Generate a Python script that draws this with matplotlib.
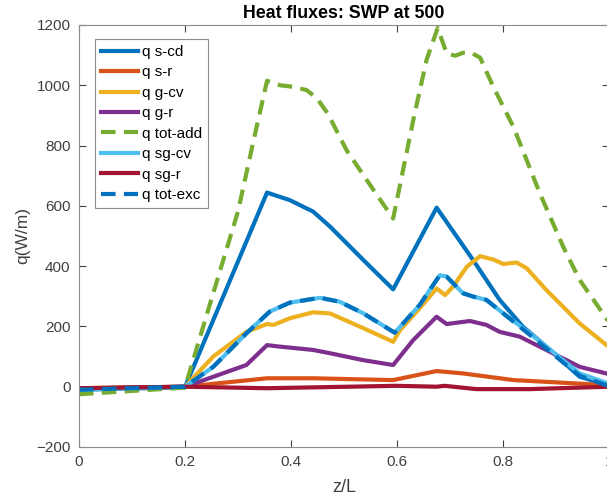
import matplotlib.pyplot as plt

# heat flux profiles along the channel, z/L on the x axis
z_scd = [0.0, 0.2, 0.355, 0.398, 0.442, 0.474, 0.537, 0.593, 0.675, 0.744, 0.794, 0.838, 0.882, 0.945, 1.0]
q_scd = [-10, -2, 644, 619, 581, 531, 420, 323, 594, 420, 288, 199, 133, 33, 5]

z_sr = [0.0, 0.2, 0.355, 0.442, 0.593, 0.675, 0.725, 0.820, 1.0]
q_sr = [-5, 0, 28, 28, 22, 52, 44, 22, 5]

z_gcv = [0.0, 0.2, 0.2535, 0.316, 0.355, 0.367, 0.398, 0.442, 0.474, 0.537, 0.593, 0.606, 0.643,
         0.675, 0.691, 0.706, 0.732, 0.757, 0.782, 0.801, 0.826, 0.845, 0.882, 0.945, 1.0]
q_gcv = [-8, 0, 100, 182, 208, 205, 227, 247, 243, 194, 149, 188, 260,
         326, 304, 332, 398, 433, 422, 407, 412, 393, 321, 210, 132]

z_gr = [0.0, 0.2, 0.2535, 0.316, 0.355, 0.379, 0.442, 0.474, 0.537, 0.593, 0.631, 0.675, 0.694,
        0.738, 0.769, 0.794, 0.832, 0.882, 0.945, 1.0]
q_gr = [-6, 0, 33, 72, 138, 133, 122, 111, 88, 72, 155, 232, 208,
        218, 205, 182, 166, 122, 66, 42]

z_tot_add = [0.0, 0.1, 0.2, 0.25, 0.3, 0.33, 0.355, 0.38, 0.404, 0.430, 0.450, 0.470, 0.505, 0.543,
             0.593, 0.631, 0.656, 0.677, 0.694, 0.710, 0.725, 0.740, 0.757, 0.782, 0.820, 0.870,
             0.914, 0.945, 1.0]
q_tot_add = [-25, -14, -3, 290, 580, 820, 1015, 1000, 995, 984, 955, 905, 785, 686,
             558, 885, 1084, 1190, 1106, 1098, 1108, 1108, 1092, 995, 862, 641,
             464, 354, 215]

z_sgcv = [0.0, 0.2, 0.2535, 0.316, 0.360, 0.398, 0.455, 0.492, 0.537, 0.596, 0.643, 0.681, 0.694,
          0.725, 0.744, 0.769, 0.801, 0.851, 0.914, 0.945, 1.0]
q_sgcv = [-10, 0, 66, 177, 249, 279, 295, 282, 243, 179, 271, 370, 365,
          310, 299, 288, 243, 177, 88, 44, 10]

z_sgr = [0.0, 0.2, 0.355, 0.6, 0.675, 0.69, 0.75, 0.85, 1.0]
q_sgr = [-5, 0, -5, 3, 0, 3, -8, -8, 0]

z_tot_exc = [0.0, 0.2, 0.2535, 0.316, 0.360, 0.398, 0.455, 0.492, 0.537, 0.596, 0.643, 0.681, 0.694,
             0.725, 0.744, 0.769, 0.801, 0.851, 0.914, 0.945, 1.0]
q_tot_exc = [-10, 0, 66, 177, 249, 279, 295, 282, 243, 179, 271, 370, 365,
             310, 299, 288, 243, 172, 80, 36, 2]

plt.rcParams['font.family'] = ['Liberation Sans', 'DejaVu Sans']
grey = '#404040'

fig = plt.figure(figsize=(6.07, 5.0), dpi=100)
ax = fig.add_axes([0.130, 0.106, 0.873, 0.844])

lw = 3
ax.plot(z_scd, q_scd, color='#0072BD', lw=lw, label='q s-cd')
ax.plot(z_sr, q_sr, color='#D95319', lw=lw, label='q s-r')
ax.plot(z_gcv, q_gcv, color='#EDB120', lw=lw, label='q g-cv')
ax.plot(z_gr, q_gr, color='#7E2F8E', lw=lw, label='q g-r')
ax.plot(z_tot_add, q_tot_add, color='#77AC30', lw=lw, dashes=(3.5, 2), label='q tot-add')
ax.plot(z_sgcv, q_sgcv, color='#4DBEEE', lw=lw, label='q sg-cv')
ax.plot(z_sgr, q_sgr, color='#A2142F', lw=lw, label='q sg-r')
ax.plot(z_tot_exc, q_tot_exc, color='#0072BD', lw=lw, dashes=(3.5, 2), label='q tot-exc')

ax.set_xlim(0, 1)
ax.set_ylim(-200, 1200)
ax.set_xticks([0, 0.2, 0.4, 0.6, 0.8, 1])
ax.set_xticklabels(['0', '0.2', '0.4', '0.6', '0.8', '1'])
ax.set_yticks(range(-200, 1201, 200))

ax.tick_params(direction='in', top=True, right=True, length=5, width=0.8,
               colors=grey, labelsize=11, labelcolor=grey, pad=6)
for s in ax.spines.values():
    s.set_color('#8c8c8c')
    s.set_linewidth(0.8)

ax.set_xlabel('z/L', fontsize=13, color=grey, labelpad=7)
ax.set_ylabel('q(W/m)', fontsize=12.5, color=grey, labelpad=4)
ax.set_title('Heat fluxes: SWP at 500', fontsize=12.8, fontweight='bold', pad=5)

leg = ax.legend(loc='upper left', bbox_to_anchor=(0.03, 0.967), borderaxespad=0,
                fontsize=11, labelspacing=0.42, handlelength=2.4, handletextpad=0.3,
                fancybox=False, framealpha=1, edgecolor='#8c8c8c', borderpad=0.4)
leg.get_frame().set_linewidth(0.8)

fig.savefig('out.png', dpi=100)
